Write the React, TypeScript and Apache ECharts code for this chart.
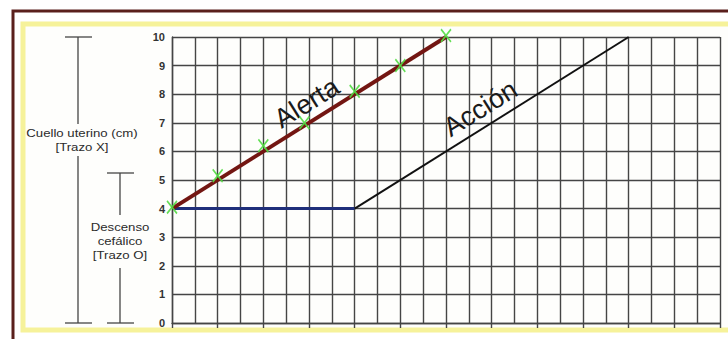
import React, { useEffect, useRef } from "react";
import * as echarts from "echarts";

// Half-hour columns (0..24), dilation in cm (0..10)
const xMax = 24;
const yMax = 10;
const yTicks = [0, 1, 2, 3, 4, 5, 6, 7, 8, 9, 10];

const alertLine = [
  [0, 4],
  [12, 10],
];
const waitLine = [
  [0, 4],
  [8, 4],
];
const actionLine = [
  [8, 4],
  [20, 10],
];
const observations = [
  [0, 4.05],
  [2, 5.15],
  [4, 6.2],
  [5.8, 7.0],
  [8, 8.1],
  [10, 9.0],
  [12, 10.05],
];
const alertLabelAt = [5.9, 7.7];
const actionLabelAt = [13.5, 7.5];

const X_PATH =
  "path://M1,0 L5,4 L9,0 L10,1 L6,5 L10,9 L9,10 L5,6 L1,10 L0,9 L4,5 L0,1 Z";

export default function App() {
  const ref = useRef<HTMLDivElement>(null);
  useEffect(() => {
    if (!ref.current) return;
    const chart = echarts.init(ref.current, null, { renderer: "svg" });
    const gridLine = { lineStyle: { color: "#454545", width: 1.4 } };
    const font = "Arial, 'Liberation Sans', sans-serif";
    const bracket = { stroke: "#444", lineWidth: 1.3 };
    chart.setOption({
      animation: false,
      backgroundColor: "#ffffff",
      grid: { left: 172, right: 8, top: 37, bottom: 16, containLabel: false },
      xAxis: {
        type: "value",
        min: 0,
        max: xMax,
        interval: 2,
        axisLine: { show: true, lineStyle: { color: "#454545", width: 1.4 } },
        axisTick: { show: true, length: 5, lineStyle: { color: "#454545", width: 1.4 } },
        axisLabel: { show: false },
        splitLine: { show: true, ...gridLine },
        minorTick: { show: false, splitNumber: 2 },
        minorSplitLine: { show: true, ...gridLine },
      },
      yAxis: {
        type: "value",
        min: 0,
        max: yMax,
        interval: 1,
        axisLine: { show: true, lineStyle: { color: "#454545", width: 1.4 } },
        axisTick: { show: false },
        axisLabel: {
          color: "#333",
          fontSize: 11,
          fontWeight: "bold",
          fontFamily: font,
          margin: 7,
          formatter: (v: number) => (yTicks.includes(v) ? String(v) : ""),
        },
        splitLine: { show: true, ...gridLine },
      },
      graphic: [
        {
          type: "rect",
          z: -10,
          shape: { x: 13, y: 11, width: 740, height: 360 },
          style: { fill: "#ffffff", stroke: "#5a1f1c", lineWidth: 3 },
        },
        {
          type: "rect",
          z: -9,
          shape: { x: 23, y: 24, width: 720, height: 306 },
          style: { fill: "#fefefc", stroke: "#f6f29a", lineWidth: 5 },
        },
        // Cuello uterino bracket
        { type: "line", shape: { x1: 65, y1: 37, x2: 92, y2: 37 }, style: bracket },
        { type: "line", shape: { x1: 78, y1: 37, x2: 78, y2: 124 }, style: bracket },
        { type: "line", shape: { x1: 78, y1: 156, x2: 78, y2: 323 }, style: bracket },
        { type: "line", shape: { x1: 65, y1: 323, x2: 92, y2: 323 }, style: bracket },
        {
          type: "text",
          x: 82,
          y: 140,
          scaleX: 1.2,
          style: {
            text: "Cuello uterino (cm)\n[Trazo X]",
            fill: "#2a2a2a",
            font: `11px ${font}`,
            align: "center",
            verticalAlign: "middle",
            lineHeight: 14,
          },
        },
        // Descenso cefálico bracket
        { type: "line", shape: { x1: 107, y1: 173, x2: 134, y2: 173 }, style: bracket },
        { type: "line", shape: { x1: 120, y1: 173, x2: 120, y2: 215 }, style: bracket },
        { type: "line", shape: { x1: 120, y1: 268, x2: 120, y2: 323 }, style: bracket },
        { type: "line", shape: { x1: 107, y1: 323, x2: 134, y2: 323 }, style: bracket },
        {
          type: "text",
          x: 120,
          y: 241,
          scaleX: 1.2,
          style: {
            text: "Descenso\ncefálico\n[Trazo O]",
            fill: "#2a2a2a",
            font: `11px ${font}`,
            align: "center",
            verticalAlign: "middle",
            lineHeight: 14,
          },
        },
      ],
      series: [
        {
          type: "line",
          data: waitLine,
          symbol: "none",
          lineStyle: { color: "#1f2f7a", width: 3 },
          z: 3,
        },
        {
          type: "line",
          data: actionLine,
          symbol: "none",
          lineStyle: { color: "#111", width: 2 },
          z: 3,
          markPoint: {
            symbol: "circle",
            symbolSize: 0,
            data: [{ coord: actionLabelAt, value: "Acción" }],
            label: {
              show: true,
              formatter: "Acción",
              rotate: 32,
              color: "#1a1a1a",
              fontSize: 27,
              fontFamily: font,
              position: "inside",
            },
          },
        },
        {
          type: "line",
          data: alertLine,
          symbol: "none",
          lineStyle: { color: "#731612", width: 4 },
          z: 4,
          markPoint: {
            symbol: "circle",
            symbolSize: 0,
            data: [{ coord: alertLabelAt, value: "Alerta" }],
            label: {
              show: true,
              formatter: "Alerta",
              rotate: 32,
              color: "#1a1a1a",
              fontSize: 27,
              fontFamily: font,
              position: "inside",
            },
          },
        },
        {
          type: "scatter",
          data: observations,
          symbol: X_PATH,
          symbolSize: [11, 14],
          clip: false,
          itemStyle: { color: "#52dc42", opacity: 0.9 },
          z: 5,
        },
      ],
    });
    return () => chart.dispose();
  }, []);
  return (
    <div
      ref={ref}
      style={{ position: "fixed", left: 0, top: 0, width: 728, height: 339 }}
    />
  );
}
